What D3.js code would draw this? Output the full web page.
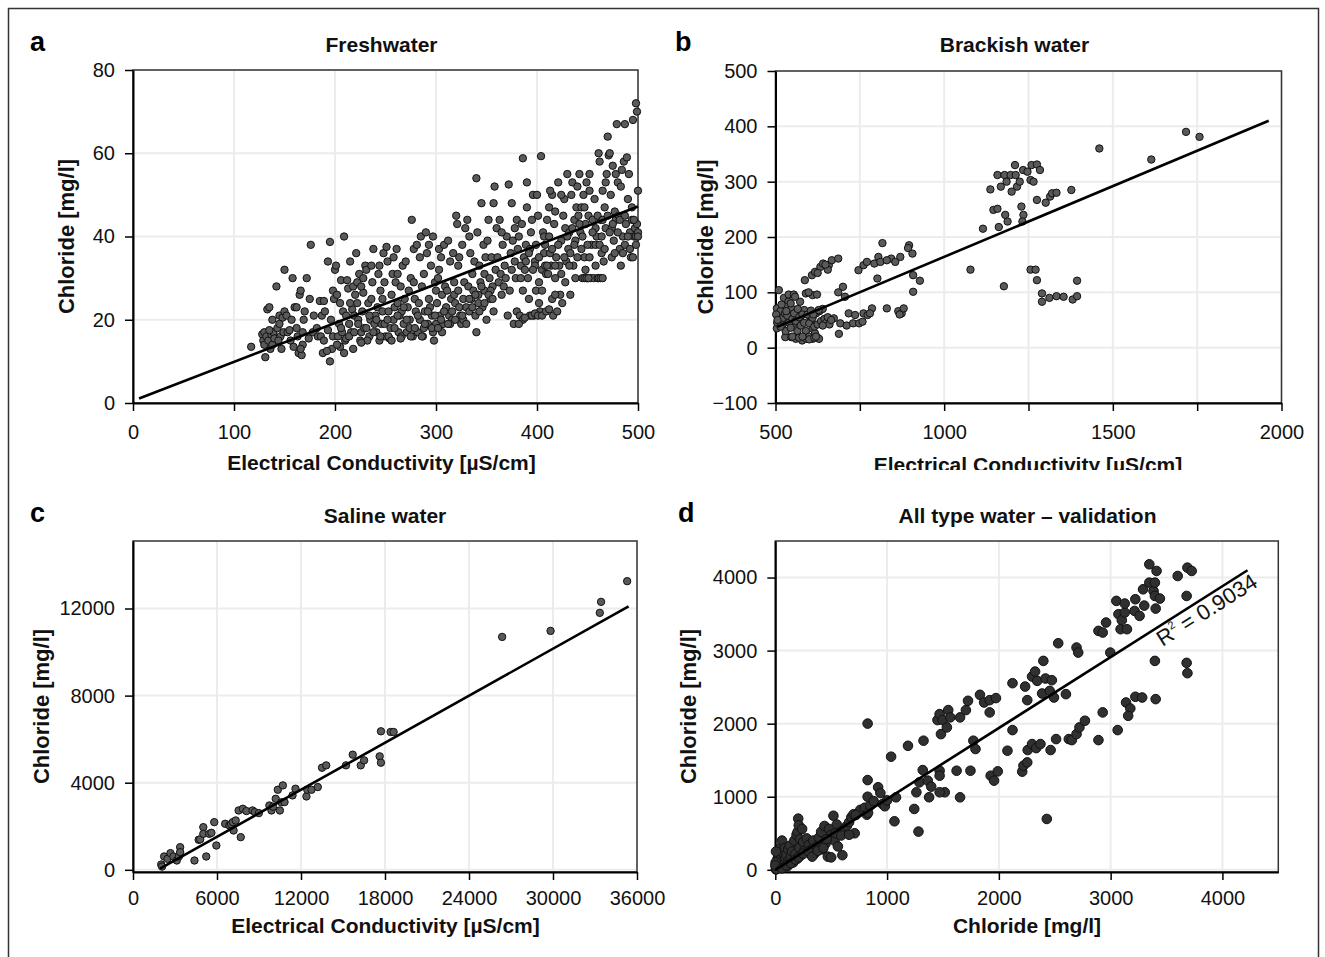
<!DOCTYPE html>
<html><head><meta charset="utf-8">
<script src="https://cdn.jsdelivr.net/npm/d3@7"></script>
<style>
html,body{margin:0;padding:0;background:#fff;}
svg{display:block;font-family:"Liberation Sans",Arial,Helvetica,sans-serif;}
</style></head><body>
<svg id="chart" width="1325" height="957"></svg>
<script>
// ---------------- DATA ----------------
const panelLetters = ["a", "b", "c", "d"];
const panelTitles = ["Freshwater", "Brackish water", "Saline water", "All type water \u2013 validation"];
const ecLabel = "Electrical Conductivity [\u00b5S/cm]";
const clLabel = "Chloride [mg/l]";

const freshXTicks = [0, 100, 200, 300, 400, 500];
const freshYTicks = [0, 20, 40, 60, 80];
const brackXTicks = [500, 750, 1000, 1250, 1500, 1750, 2000];
const brackXLabels = [500, 1000, 1500, 2000];
const brackYTicks = [-100, 0, 100, 200, 300, 400, 500];
const salineXTicks = [0, 6000, 12000, 18000, 24000, 30000, 36000];
const salineYTicks = [0, 4000, 8000, 12000];
const allXTicks = [0, 1000, 2000, 3000, 4000];
const allYTicks = [0, 1000, 2000, 3000, 4000];

// regression lines (start, end)
const freshLine = [[6, 1.1], [500, 47.2]];
const brackLine = [[505, 37.6], [1962, 410]];
const salineLine = [[1930, 50], [35400, 12100]];
const allLine = [[0, 0], [4225, 4100]];
const r2Text = "0.9034";
const r2Pos = [3465, 3050];

// Freshwater: [EC, Cl]
const freshwater = [
[117,13.5],[128,16.5],[129,15],[130,17],[130,14],[131,11],[132,16],
[133,22.5],[135,23],[134,15],[136,13],[137,16.5],[138,14],[139,17],[140,15.5],[135,17.5],[138,20],
[142,28],[143,18],[145,21],[146,16],[147,13],[144,15],[148,20.5],[149,17],[145,19],[150,22],
[150,32],[152,21],[153,17],[155,17.5],[156,15],[157,20],[158,30],[159,13.5],[160,23],
[162,23],[163,16],[164,12],[165,26],[166,27],[167,11.5],[168,17],[169,20],[168,14],[166,13],[162,18],[170,22],
[172,30],[174,15.5],[176,38],[175,25],[178,17],[179,21],
[183,16],[185,24.5],[186,16],[187,21],[188,12],[189,15],[190,22],[182,18],[189,24.5],
[193,34],[195,38.7],[195,10],[193,17.5],[197,13],[198,16],[196,20],[199,25],[192,12.5],[198,27],
[200,32],[201,33],[202,26],[203,16],[204,19],[205,13.5],[206,29.5],[207,17],[208,22],[209,40],[210,15],[209,12],[205,24],
[212,29.5],[213,27.5],[214,19],[215,34],[216,17],[217,22.5],[218,13],[219,21],[220,26],[211,15.5],[215,24],[218,28],
[221,36],[222,29],[223,20],[224,31],[225,15],[226,17],[227,22],[228,26.5],[229,18],[230,33],[222,24],[226,28],[228,30],
[231,32],[233,24],[234,16],[235,20],[236,25],[237,29],[238,37],[239,19],[232,15],[236,33],[240,21],
[241,17],[242,23],[243,31],[244,15],[245,27],[246,19],[247,22],[248,36],[249,29],[250,16],[244,33],[247,25],
[251,37.5],[252,34],[253,22],[254,15.5],[255,18],[256,26],[257,31],[258,20],[259,23],[260,29],[253,16],[258,35],
[261,37],[262,24],[263,17],[264,21],[265,28],[266,16],[267,33],[268,19],[269,25],[270,34],[262,31],[266,22],
[271,17],[272,23],[273,27],[274,20],[275,30],[276,44],[277,16],[278,37],[279,25],[280,22],[274,18],[278,29],
[281,38],[282,17],[283,24],[284,20],[285,40],[286,28],[287,16],[288,31],[289,22],[290,41],[284,35],[288,18],
[291,36],[292,19],[293,25],[294,23],[295,33],[296,21],[297,40],[298,15],[299,29],[300,27],[293,38],[297,17],[300,19],
[301,24],[302,30],[303,37],[304,21],[305,35],[306,26],[307,19],[308,38],[309,28],[310,23],[303,32],[306,17],
[311,27],[312,39],[313,21],[314,34],[315,25],[316,20],[317,36],[318,29],[319,24],[320,45],[314,19],[318,26],
[321,43],[322,27],[323,35],[324,21],[325,19],[326,38],[327,25],[328,29],[329,42],[330,23],[322,33],[327,20],
[331,44],[332,28],[333,22],[334,36],[335,25],[336,31],[337,27],[338,34],[339,21],[340,54],[333,40],[340,17],
[341,41],[342,26],[343,33],[344,29],[345,48],[346,23],[347,38],[348,31],[349,35],[350,20],[343,22],[348,27],
[351,39],[352,44],[353,30],[354,25],[355,35],[356,28],[357,48],[358,52],[359,32],[360,42],[354,27],[357,22],
[361,35],[362,29],[363,44],[364,31],[365,26],[366,38],[367,28],[368,33],[369,30],[370,40],[372,52.5],[365,41],
[371,21],[373,27],[374,36],[375,32],[376,39],[377,19],[378,42],[379,30],[380,44],[375,48],[378,34],[380,22],
[381,37],[382,40],[383,21],[384,33],[385,43],[386,58.8],[387,35],[388,32],[389,38],[390,53],[386,20],[390,47],
[391,30],[392,25],[393,21],[394,41],[395,44],[396,50],[397,21],[398,34],[399,27],[400,50],[393,37],[398,33],
[401,45],[402,24],[403,22],[404,59.3],[405,32],[406,41],[407,36],[408,33],[409,31],[410,44],[402,29],[408,38],
[411,31],[412,47],[413,36],[414,33],[415,50],[416,21],[417,43],[418,46],[419,35],[420,22],[413,51],[418,30],
[421,53],[422,33],[423,26],[424,39],[425,24],[426,45],[427,49],[428,42],[429,34],[430,55],[424,50],[428,29],
[431,37],[432,41],[433,26],[434,50],[435,53],[436,33],[437,44],[438,30],[439,47],[440,52],[433,36],[438,39],
[441,45],[442,55],[443,41],[444,37],[445,30],[446,50],[447,35],[448,43],[449,53],[450,30],[444,47],[448,32],
[451,45],[452,55],[453,30],[454,38],[455,44],[456,30],[457,49],[458,33],[459,40],[460,30],[452,51],[458,42],
[461,60],[462,58],[463,44],[464,36],[465,51],[466,34],[467,47],[468,53],[469,55],[470,64],[464,40],[468,42],
[471,59.5],[472,60],[473,50],[474,42],[475,57],[476,39],[477,46],[478,55],[479,67],[480,53],[474,35],[478,44],
[481,45],[482,37],[483,33],[484,56],[485,40],[486,58],[487,67],[488,43],[489,59],[490,49],[483,52],[487,38],
[491,55],[492,41],[493,35],[494,44],[495,68],[496,40],[497,42],[498,72],[499,70],[500,51],[499,43],[498,40],[500,41],[495,35],[500,40],
[202,14],[206,18],[211,21],[214,16],[219,17],[223,19],[226,14.5],[231,18],[234,21],[238,17],[241,20],[245,16],[249,19],
[252,20],[256,15],[259,18],[262,21],[265,15.5],[268,23],[271,20],[275,16],[279,18],[282,21],[286,16],[289,19],[292,22],
[296,18],[299,21],[302,18],[305,20],[308,22],[312,19],[316,22],[319,20],[323,23],[326,21],[330,19],[333,25],[336,23],
[339,26],[342,24],[345,28],[348,24],[352,26],[356,25],
[384,30],[386,27],[389,34],[392,36],[396,32],[399,38],[402,35],[405,27],[407,40],[410,33],[412,40],[415,37],[418,33],
[421,38],[424,31],[427,35],[430,40],[432,33],[435,42],[437,38],[440,35],[442,43],[445,40],[447,47],[450,38],[452,35],
[455,41],[458,38],[460,45],[462,38],[465,44],[467,37],[470,45],[472,41],[475,43],[477,36],[480,41],[482,44],[485,36],
[487,45],[490,40],[492,37],[494,47],[496,44],[498,38],
[447,30],[449,30],[451,30],[461,30],[463,30],[465,30],[382,19],[388,20.5],[395,21],[398,21.5],[401,21],[405,21],[409,22],[412,22.5],[415,25],[418,26]
];

// Brackish water: [EC, Cl]
const brackish = [
[510,104],[504,71],[510,56],[504,35],[525,90],[539,96],[554,96],[538,83],[573,83],[529,74],[547,71],[560,62],[535,50],[554,43],[573,50],
[529,19],[547,19],[560,16],[579,13],[592,16],[610,16],[623,19],[629,16],
[585,68],[597,59],[604,47],[610,35],[617,26],
[587,122],[608,131],[617,137],[610,95],[623,96],
[633,146],[641,152],[658,149],[667,158],[686,161],[655,141],[648,150],[625,135],
[686,100],[700,110],[706,92],[688,25],
[661,50],[673,53],[692,44],[711,40],[730,44],[748,44],[758,47],
[717,62],[736,59],[761,62],[773,59],[786,71],[780,62],
[746,140],[761,149],[771,155],[793,152],[805,164],[817,189],[811,155],[843,161],[855,155],[870,164],[802,125],[830,158],
[830,71],[864,66],[874,62],[880,71],[868,60],
[896,185],[893,180],[906,170],[908,131],[908,101],[928,121],
[1078,141],[1115,215],
[1137,286],[1146,249],[1158,251],[1162,218],[1158,312],[1168,291],[1179,312],[1181,240],[1188,228],[1177,111],[1185,300],[1197,312],
[1200,282],[1210,330],[1212,312],[1216,291],[1224,300],[1229,255],[1235,240],[1232,228],[1234,321],[1247,318],[1256,303],[1265,300],
[1259,330],[1275,331],[1284,321],[1275,267],[1301,262],[1314,273],[1320,279],[1333,280],[1377,285],
[1256,141],[1271,141],[1275,122],[1290,98],[1290,83],[1312,90],[1333,93],[1354,92],[1381,87],[1394,93],[1394,121],
[1460,360],[1614,340],[1717,390],[1757,381],
[505,45],[510,60],[515,66],[520,40],[522,54],[528,62],[530,30],[535,58],[540,45],[545,36],[550,52],[555,62],[560,48],[565,30],
[570,55],[575,40],[580,60],[585,45],[590,30],[595,60],[600,20],[600,44],[605,67],[610,54],[615,38],[620,62],[625,42],[630,66],
[635,48],[640,70],[645,52],[650,45],[655,55],[660,42],[665,50],[550,20],[570,18],[580,20],[600,15],[615,18],[620,20],
[502,60],[506,50],[515,38],[518,78],[532,66],[545,80],[558,92],[566,70],[590,98],[598,100],[612,60],[628,68],[640,40]
];

// Saline water: [EC, Cl]
const saline = [
[2014,243],[2075,150],[2225,612],[2465,505],[2676,765],[2886,612],[3127,428],[3277,612],[3367,1040],[3367,811],[4390,428],
[4690,1378],[4800,1400],[5021,1960],[5021,1653],[5231,612],[5442,1653],[5600,1700],[5803,2190],[5953,1117],[6584,2113],
[6885,2037],[7000,2100],[7125,2190],[7185,1807],[7336,2267],[7546,2726],[7696,1500],[7847,2803],[8100,2700],[8539,2726],
[8700,2650],[8990,2604],[9741,2956],[9892,2726],[10000,2900],[10343,3677],[10193,3263],[10493,2726],[10600,3100],[10704,3877],
[10824,3110],[11395,3417],[11606,3723],[12388,3370],[12448,3677],[12749,3677],[13200,3800],[13501,4690],[13801,4797],
[15214,4797],[15695,5288],[16267,4797],[16507,5027],[17621,5211],[17711,4920],[17711,6361],[18402,6330],[18613,6330],
[26368,10696],[29826,10972],[33343,11800],[33434,12306],[35298,13256]
];

// All type water validation: [measured Cl, predicted Cl]
const allType = [
[826,2001],[826,1228],[826,1000],[819,754],[1036,1548],[1066,664],[1080,992],[1187,1697],[1281,523],[1243,833],[1262,1061],
[1289,1197],[1319,1365],[1326,1767],[1364,1220],[1376,993],[1395,1138],[1451,2049],[1470,2131],[1497,2049],[1547,2186],
[1565,2086],[1482,1857],[1535,1949],[1516,1061],[1470,1356],[1470,1288],[1470,1061],[1622,1356],[1653,992],[1653,2086],
[1705,2186],[1724,2313],[1746,1356],[1772,1767],[1791,1653],[1831,2395],[1868,2290],[1918,2322],[1918,2154],[1974,2350],
[1927,1288],[1957,1220],[1990,1347],[2077,1630],[2122,1912],[2122,2554],[2235,2508],[2254,2322],[2209,1343],[2220,1425],
[2254,1470],[2258,1639],[2297,2645],[2324,2713],[2343,2586],[2297,1721],[2334,1666],[2372,1721],[2387,2413],[2398,2859],
[2417,2618],[2455,2449],[2463,1639],[2474,2595],[2493,2358],[2512,1789],[2531,3101],[2600,2404],[2429,696],[2626,1789],
[2653,1775],[2695,1857],[2695,3042],[2710,2973],[2721,1949],[2770,2040],[2891,1775],[2891,3270],[2929,3247],[2929,2154],
[2959,3384],[2997,2973],[3063,1912],[3051,3680],[3070,3498],[3089,3293],[3100,3416],[3126,3521],[3146,3293],[3126,3644],
[3138,2290],[3176,2208],[3157,2108],[3221,2368],[3221,3703],[3214,3543],[3259,3475],[3282,2358],[3301,3616],[3290,3839],
[3346,4181],[3346,3930],[3384,3816],[3396,3748],[3403,3575],[3411,4090],[3396,3930],[3441,3712],[3396,2859],[3403,2336],
[3600,4021],[3687,4135],[3725,4090],[3680,3748],[3680,2832],[3687,2691],
[10,20],[15,80],[20,150],[25,40],[30,200],[35,110],[40,260],[45,60],[50,310],[55,180],[60,400],[65,120],[70,230],[80,90],
[85,300],[90,160],[100,200],[110,50],[115,280],[120,130],[130,330],[140,180],[150,250],[160,100],[170,400],[180,220],
[190,480],[195,150],[200,520],[205,700],[210,610],[215,300],[220,420],[230,200],[240,560],[250,380],[260,260],[280,430],
[300,340],[320,280],[340,400],[350,220],[370,320],[390,440],[410,520],[420,280],[440,600],[450,360],[470,180],[480,560],
[500,480],[520,740],[530,400],[550,620],[560,320],[580,520],[600,200],[620,560],[640,600],[660,650],[680,720],[700,760],
[710,500],[760,820],[800,850],[830,780],[850,880],[880,940],[920,1130],[940,1050],[960,900],[980,870],[1000,950],
[5,5],[8,30],[12,10],[3,100],[6,250],[0,60],[60,20],[100,60],[140,90],[180,140],[210,170],[250,220],[300,250],[330,180],
[380,260],[430,300],[460,420],[500,170],[540,500],[590,470],[660,480],[720,750]
];

// ---------------- LAYOUT ----------------
const fmt = d3.format("d");
const svg = d3.select("#chart");
svg.append("rect").attr("x", 8.5).attr("y", 8.5).attr("width", 1310).attr("height", 1000)
  .attr("fill", "#fff").attr("stroke", "#333").attr("stroke-width", 1.5);

svg.append("defs").append("clipPath").attr("id", "clipB")
  .append("rect").attr("x", 660).attr("y", 0).attr("width", 660).attr("height", 470);

const panels = [
  {letter: panelLetters[0], title: panelTitles[0], data: freshwater, line: freshLine,
   xDomain: [0, 500], yDomain: [0, 80], xTicks: freshXTicks, xLabels: freshXTicks, yTicks: freshYTicks,
   box: {x0: 133, x1: 638, y0: 70, y1: 403}, letterX: 30, letterY: 51, titleX: 381.5, titleY: 51.5,
   xLab: ecLabel, xLabX: 381.5, xLabY: 470, yLab: clLabel, yLabX: 73.5, r: 3.7, fill: "#5a5a5a", pad: 14},
  {letter: panelLetters[1], title: panelTitles[1], data: brackish, line: brackLine,
   xDomain: [500, 2000], yDomain: [-100, 500], xTicks: brackXTicks, xLabels: brackXLabels, yTicks: brackYTicks,
   box: {x0: 775.5, x1: 1281.5, y0: 71, y1: 403}, letterX: 675, letterY: 51, titleX: 1014.5, titleY: 51.5,
   xLab: ecLabel, xLabX: 1028, xLabY: 472, yLab: clLabel, yLabX: 712.5, r: 3.7, fill: "#5a5a5a", pad: 14, clip: "url(#clipB)"},
  {letter: panelLetters[2], title: panelTitles[2], data: saline, line: salineLine,
   xDomain: [0, 36000], yDomain: [-100, 15100], xTicks: salineXTicks, xLabels: salineXTicks, yTicks: salineYTicks,
   box: {x0: 133, x1: 637, y0: 541, y1: 872}, letterX: 30, letterY: 522, titleX: 385, titleY: 522.5,
   xLab: ecLabel, xLabX: 385.5, xLabY: 933, yLab: clLabel, yLabX: 48.5, r: 3.7, fill: "#5a5a5a", pad: 11},
  {letter: panelLetters[3], title: panelTitles[3], data: allType, line: allLine,
   xDomain: [0, 4500], yDomain: [-30, 4500], xTicks: allXTicks, xLabels: allXTicks, yTicks: allYTicks,
   box: {x0: 775.3, x1: 1278.3, y0: 541, y1: 872}, letterX: 678, letterY: 522, titleX: 1027.5, titleY: 522.5,
   xLab: clLabel, xLabX: 1027, xLabY: 933, yLab: clLabel, yLabX: 696, r: 4.8, fill: "#303030", pad: 11, r2: true}
];

function drawPanel(p) {
  const b = p.box;
  const x = d3.scaleLinear().domain(p.xDomain).range([b.x0, b.x1]);
  const y = d3.scaleLinear().domain(p.yDomain).range([b.y1, b.y0]);
  const g = svg.append("g");

  g.append("g").selectAll("line").data(p.xTicks).join("line")
    .attr("x1", d => x(d)).attr("x2", d => x(d)).attr("y1", b.y0).attr("y2", b.y1)
    .attr("stroke", "#ececec").attr("stroke-width", 2);
  g.append("g").selectAll("line").data(p.yTicks).join("line")
    .attr("y1", d => y(d)).attr("y2", d => y(d)).attr("x1", b.x0).attr("x2", b.x1)
    .attr("stroke", "#ececec").attr("stroke-width", 2);

  g.append("rect").attr("x", b.x0).attr("y", b.y0).attr("width", b.x1 - b.x0).attr("height", b.y1 - b.y0)
    .attr("fill", "none").attr("stroke", "#333").attr("stroke-width", 1.5);

  const xa = d3.axisBottom(x).tickValues(p.xTicks).tickSize(8).tickPadding(p.pad).tickSizeOuter(0)
    .tickFormat(d => p.xLabels.includes(d) ? fmt(d) : "");
  const ya = d3.axisLeft(y).tickValues(p.yTicks).tickSize(8).tickPadding(10).tickSizeOuter(0).tickFormat(fmt);
  const gx = g.append("g").attr("transform", `translate(0,${b.y1})`).call(xa);
  const gy = g.append("g").attr("transform", `translate(${b.x0},0)`).call(ya);
  [gx, gy].forEach(a => {
    a.attr("font-family", null).attr("font-size", null);
    a.select(".domain").attr("stroke", "#000").attr("stroke-width", 2);
    a.selectAll(".tick line").attr("stroke", "#000").attr("stroke-width", 1.5);
    a.selectAll(".tick text").attr("font-size", 20).attr("fill", "#111");
  });

  g.append("g").selectAll("circle").data(p.data).join("circle")
    .attr("cx", d => x(d[0])).attr("cy", d => y(d[1])).attr("r", p.r)
    .attr("fill", p.fill).attr("stroke", "#111").attr("stroke-width", 1);

  g.append("path").datum(p.line)
    .attr("d", d3.line().x(d => x(d[0])).y(d => y(d[1])))
    .attr("fill", "none").attr("stroke", "#000").attr("stroke-width", 2.6);

  if (p.r2) {
    const [a0, a1] = p.line;
    const ang = Math.atan2(y(a1[1]) - y(a0[1]), x(a1[0]) - x(a0[0])) * 180 / Math.PI;
    const t = g.append("text")
      .attr("transform", `translate(${x(r2Pos[0])},${y(r2Pos[1])}) rotate(${ang})`)
      .attr("font-size", 22).attr("fill", "#111");
    t.append("tspan").text("R");
    t.append("tspan").attr("font-size", 11).attr("dy", -10).text("2");
    t.append("tspan").attr("dy", 10).text(" = " + r2Text);
  }

  svg.append("text").attr("x", p.letterX).attr("y", p.letterY).attr("font-size", 27).attr("font-weight", "bold")
    .attr("fill", "#000").text(p.letter);
  svg.append("text").attr("x", p.titleX).attr("y", p.titleY).attr("text-anchor", "middle")
    .attr("font-size", 21).attr("font-weight", "bold").attr("fill", "#111").text(p.title);
  svg.append("text").attr("x", p.xLabX).attr("y", p.xLabY).attr("text-anchor", "middle")
    .attr("font-size", 21).attr("font-weight", "bold").attr("fill", "#111")
    .attr("clip-path", p.clip || null).text(p.xLab);
  const cy = (b.y0 + b.y1) / 2;
  svg.append("text").attr("transform", `translate(${p.yLabX},${cy}) rotate(-90)`).attr("text-anchor", "middle")
    .attr("font-size", 22).attr("font-weight", "bold").attr("fill", "#111").text(p.yLab);
}

panels.forEach(drawPanel);
</script>
</body></html>
